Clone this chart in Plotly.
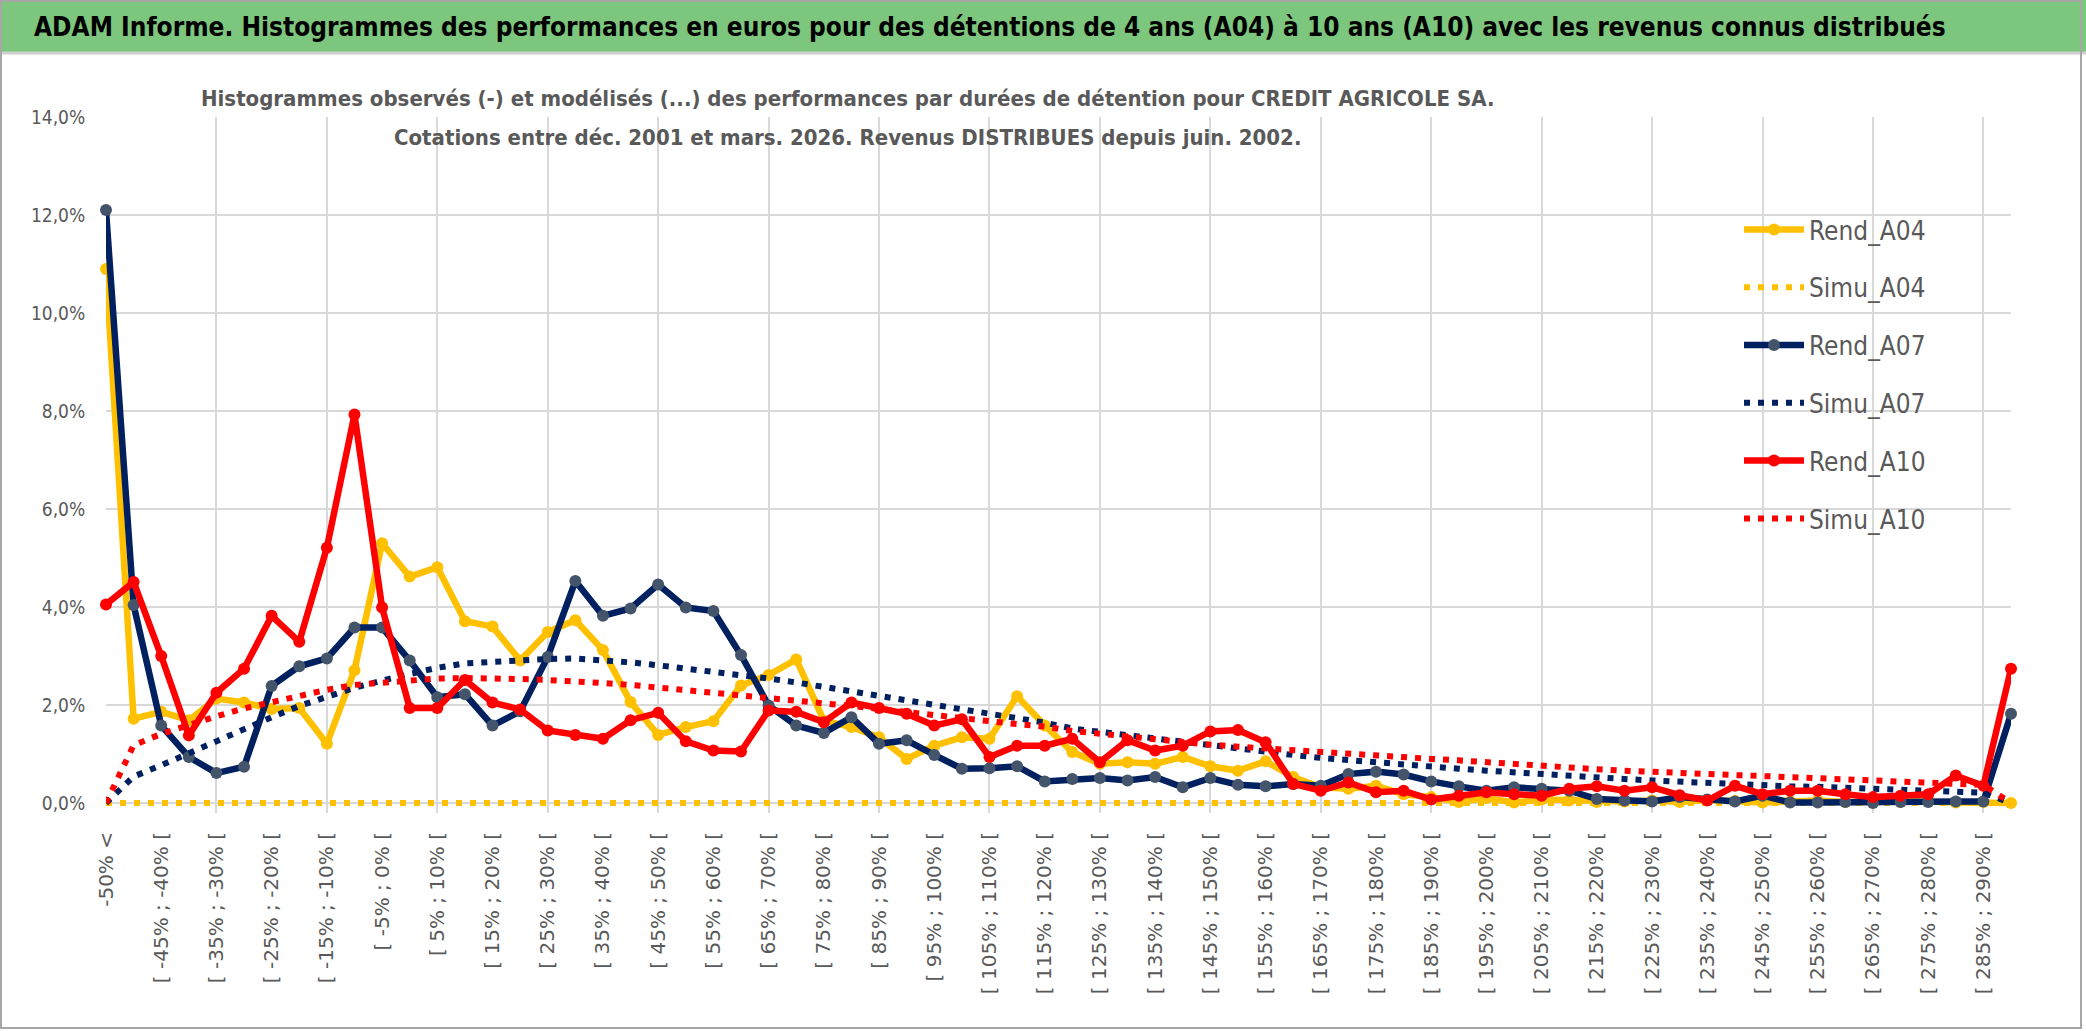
import plotly.graph_objects as go

categories = [
    "-50% <",
    "[ -50% ; -45% [", "[ -45% ; -40% [", "[ -40% ; -35% [", "[ -35% ; -30% [",
    "[ -30% ; -25% [", "[ -25% ; -20% [", "[ -20% ; -15% [", "[ -15% ; -10% [",
    "[ -10% ; -5% [", "[ -5% ; 0% [", "[ 0% ; 5% [", "[ 5% ; 10% [",
    "[ 10% ; 15% [", "[ 15% ; 20% [", "[ 20% ; 25% [", "[ 25% ; 30% [",
    "[ 30% ; 35% [", "[ 35% ; 40% [", "[ 40% ; 45% [", "[ 45% ; 50% [",
    "[ 50% ; 55% [", "[ 55% ; 60% [", "[ 60% ; 65% [", "[ 65% ; 70% [",
    "[ 70% ; 75% [", "[ 75% ; 80% [", "[ 80% ; 85% [", "[ 85% ; 90% [",
    "[ 90% ; 95% [", "[ 95% ; 100% [", "[ 100% ; 105% [", "[ 105% ; 110% [",
    "[ 110% ; 115% [", "[ 115% ; 120% [", "[ 120% ; 125% [", "[ 125% ; 130% [",
    "[ 130% ; 135% [", "[ 135% ; 140% [", "[ 140% ; 145% [", "[ 145% ; 150% [",
    "[ 150% ; 155% [", "[ 155% ; 160% [", "[ 160% ; 165% [", "[ 165% ; 170% [",
    "[ 170% ; 175% [", "[ 175% ; 180% [", "[ 180% ; 185% [", "[ 185% ; 190% [",
    "[ 190% ; 195% [", "[ 195% ; 200% [", "[ 200% ; 205% [", "[ 205% ; 210% [",
    "[ 210% ; 215% [", "[ 215% ; 220% [", "[ 220% ; 225% [", "[ 225% ; 230% [",
    "[ 230% ; 235% [", "[ 235% ; 240% [", "[ 240% ; 245% [", "[ 245% ; 250% [",
    "[ 250% ; 255% [", "[ 255% ; 260% [", "[ 260% ; 265% [", "[ 265% ; 270% [",
    "[ 270% ; 275% [", "[ 275% ; 280% [", "[ 280% ; 285% [", "[ 285% ; 290% [",
    "> 290%",
]

# values in percent
rend_a04 = [
    10.9, 1.72, 1.86, 1.69, 2.13, 2.05, 1.92, 1.94, 1.21, 2.71,
    5.30, 4.62, 4.81, 3.71, 3.60, 2.91, 3.49, 3.73, 3.12, 2.06,
    1.39, 1.55, 1.67, 2.40, 2.61, 2.93, 1.68, 1.55, 1.34, 0.90,
    1.17, 1.34, 1.31, 2.18, 1.58, 1.04, 0.80, 0.83, 0.80, 0.94,
    0.75, 0.66, 0.85, 0.53, 0.32, 0.29, 0.35, 0.18, 0.12, 0.02,
    0.10, 0.01, 0.07, 0.05, 0.02, 0.03, 0.05, 0.02, 0.06, 0.04,
    0.01, 0.03, 0.05, 0.02, 0.03, 0.02, 0.03, 0.01, 0.02, 0.00,
]
simu_a04 = [
    0.0, 0.0, 0.0, 0.0, 0.0, 0.0, 0.0, 0.0, 0.0, 0.0,
    0.0, 0.0, 0.0, 0.0, 0.0, 0.0, 0.0, 0.0, 0.0, 0.0,
    0.0, 0.0, 0.0, 0.0, 0.0, 0.0, 0.0, 0.0, 0.0, 0.0,
    0.0, 0.0, 0.0, 0.0, 0.0, 0.0, 0.0, 0.0, 0.0, 0.0,
    0.0, 0.0, 0.0, 0.0, 0.0, 0.0, 0.0, 0.0, 0.0, 0.0,
    0.0, 0.0, 0.0, 0.0, 0.0, 0.0, 0.0, 0.0, 0.0, 0.0,
    0.0, 0.0, 0.0, 0.0, 0.0, 0.0, 0.0, 0.0, 0.0, 0.0,
]
rend_a07 = [
    12.1, 4.04, 1.58, 0.94, 0.61, 0.74, 2.39, 2.79, 2.95, 3.58,
    3.58, 2.91, 2.16, 2.22, 1.58, 1.87, 2.98, 4.53, 3.82, 3.97,
    4.46, 3.99, 3.92, 3.02, 1.99, 1.58, 1.43, 1.75, 1.21, 1.28,
    0.98, 0.70, 0.71, 0.75, 0.44, 0.49, 0.51, 0.46, 0.53, 0.32,
    0.51, 0.37, 0.34, 0.39, 0.35, 0.59, 0.64, 0.58, 0.44, 0.34,
    0.25, 0.32, 0.29, 0.25, 0.08, 0.05, 0.03, 0.12, 0.07, 0.03,
    0.15, 0.01, 0.01, 0.02, 0.00, 0.02, 0.02, 0.03, 0.03, 1.82,
]
simu_a07 = [
    0.00, 0.54, 0.77, 1.02, 1.26, 1.50, 1.75, 1.98, 2.18, 2.35,
    2.50, 2.64, 2.76, 2.85, 2.89, 2.92, 2.94, 2.95, 2.92, 2.87,
    2.81, 2.75, 2.68, 2.61, 2.54, 2.46, 2.37, 2.28, 2.18, 2.09,
    1.99, 1.91, 1.81, 1.73, 1.64, 1.52, 1.45, 1.38, 1.32, 1.24,
    1.16, 1.10, 1.03, 0.98, 0.92, 0.87, 0.82, 0.77, 0.73, 0.70,
    0.66, 0.62, 0.58, 0.55, 0.52, 0.49, 0.46, 0.43, 0.41, 0.38,
    0.36, 0.34, 0.33, 0.31, 0.29, 0.27, 0.25, 0.23, 0.21, 0.00,
]
rend_a10 = [
    4.05, 4.51, 3.00, 1.38, 2.25, 2.74, 3.82, 3.29, 5.21, 7.93,
    3.99, 1.94, 1.94, 2.51, 2.05, 1.91, 1.48, 1.39, 1.31, 1.69,
    1.84, 1.26, 1.07, 1.05, 1.89, 1.86, 1.65, 2.05, 1.94, 1.82,
    1.58, 1.71, 0.94, 1.17, 1.17, 1.31, 0.83, 1.28, 1.07, 1.17,
    1.46, 1.49, 1.24, 0.39, 0.25, 0.42, 0.22, 0.25, 0.07, 0.15,
    0.22, 0.18, 0.15, 0.29, 0.34, 0.25, 0.32, 0.16, 0.05, 0.35,
    0.18, 0.25, 0.25, 0.18, 0.12, 0.15, 0.18, 0.56, 0.35, 2.74,
]
simu_a10 = [
    0.00, 1.18, 1.41, 1.60, 1.77, 1.93, 2.06, 2.19, 2.31, 2.41,
    2.46, 2.51, 2.54, 2.55, 2.55, 2.53, 2.51, 2.49, 2.45, 2.41,
    2.36, 2.31, 2.25, 2.20, 2.14, 2.09, 2.03, 1.98, 1.92, 1.85,
    1.79, 1.73, 1.67, 1.61, 1.56, 1.47, 1.41, 1.35, 1.30, 1.24,
    1.19, 1.15, 1.11, 1.08, 1.05, 1.00, 0.96, 0.93, 0.90, 0.87,
    0.83, 0.79, 0.74, 0.71, 0.69, 0.66, 0.63, 0.60, 0.58, 0.57,
    0.55, 0.53, 0.50, 0.48, 0.46, 0.43, 0.41, 0.39, 0.37, 0.00,
]

y_ticks = [0, 2, 4, 6, 8, 10, 12, 14]
y_tick_labels = ["0,0%", "2,0%", "4,0%", "6,0%", "8,0%", "10,0%", "12,0%", "14,0%"]

title_main = ("ADAM Informe. Histogrammes des performances en euros pour des détentions "
              "de 4 ans (A04) à 10 ans (A10) avec les revenus connus distribués")
subtitle_1 = ("Histogrammes observés (-) et modélisés (...) des performances par durées "
              "de détention pour CREDIT AGRICOLE SA.")
subtitle_2 = "Cotations entre déc. 2001 et mars. 2026. Revenus DISTRIBUES depuis juin. 2002."

YELLOW = "#FFC000"
NAVY = "#002060"
SLATE = "#44546A"
RED = "#FF0000"
GRID = "#D9D9D9"
TXT = "#595959"
NARROW = "DejaVu Sans Condensed, DejaVu Sans, sans-serif"

W, H = 2086, 1031
L, R, T, ZERO = 106, 2011, 117, 803      # pixel positions of plot left/right/top and of the 0 % line
Y_TOP = 14
PX_PER_UNIT = (ZERO - T) / Y_TOP
B = 813                                   # plot bottom (vertical grid reaches slightly below 0 %)
Y_MIN = -(B - ZERO) / PX_PER_UNIT


def px(xp):
    return (xp - L) / (R - L)


def py(yp):
    return (B - yp) / (B - T)


fig = go.Figure()

series = [
    ("Rend_A04", rend_a04, "rend", YELLOW, YELLOW),
    ("Simu_A04", simu_a04, "simu", YELLOW, YELLOW),
    ("Rend_A07", rend_a07, "rend", NAVY, SLATE),
    ("Simu_A07", simu_a07, "simu", NAVY, NAVY),
    ("Rend_A10", rend_a10, "rend", RED, RED),
    ("Simu_A10", simu_a10, "simu", RED, RED),
]

for name, vals, kind, lc, mc in series:
    if kind == "rend":
        fig.add_trace(go.Scatter(
            x=categories, y=vals, name=name, mode="lines+markers",
            line=dict(color=lc, width=6.5),
            marker=dict(color=mc, size=12, line=dict(width=0)),
            cliponaxis=False, legendgroup=name,
        ))
    else:
        fig.add_trace(go.Scatter(
            x=categories, y=vals, name=name, mode="lines",
            line=dict(color=lc, width=6, dash="6px,8px"),
            cliponaxis=False, legendgroup=name,
        ))

# empty trace to host the gridline axis
fig.add_trace(go.Scatter(x=[], y=[], xaxis="x2", showlegend=False, hoverinfo="skip"))

fig.update_layout(
    width=W, height=H,
    margin=dict(l=L, r=W - R, t=T, b=H - B, pad=0, autoexpand=False),
    paper_bgcolor="white", plot_bgcolor="white",
    showlegend=True,
    legend=dict(
        x=px(1739), y=py(206), xanchor="left", yanchor="top",
        bgcolor="rgba(0,0,0,0)", borderwidth=0,
        font=dict(family=NARROW, size=26, color=TXT),
        traceorder="grouped", tracegroupgap=21, itemwidth=60,
    ),
    xaxis=dict(
        type="category", range=[0, len(categories) - 1], automargin=False,
        tickmode="array", tickvals=categories[::2], ticktext=categories[::2],
        tickangle=-90, showgrid=False, zeroline=False, showline=False,
        ticks="outside", ticklen=10, tickcolor="rgba(0,0,0,0)",
        tickfont=dict(family="DejaVu Sans", size=20, color=TXT),
    ),
    xaxis2=dict(
        overlaying="x", range=[0, len(categories) - 1], autorange=False,
        tickmode="array", tickvals=list(range(0, len(categories), 4)),
        showticklabels=False, showgrid=True, gridcolor=GRID, gridwidth=2,
        zeroline=False, showline=False, ticks="", automargin=False,
    ),
    yaxis=dict(
        range=[Y_MIN, Y_TOP], tickmode="array", tickvals=y_ticks, ticktext=y_tick_labels,
        showgrid=True, gridcolor=GRID, gridwidth=2, zeroline=False, showline=False,
        ticks="outside", ticklen=16, tickcolor="rgba(0,0,0,0)", automargin=False,
        tickfont=dict(family=NARROW, size=19, color=TXT),
    ),
    shapes=[
        # green title band
        dict(type="rect", xref="paper", yref="paper", x0=px(0), x1=px(W), y0=py(52), y1=py(0),
             fillcolor="#7DC67D", line=dict(width=0), layer="above"),
        dict(type="line", xref="paper", yref="paper", x0=px(0), x1=px(W), y0=py(53), y1=py(53),
             line=dict(color="#D0D0D0", width=3), layer="above"),
        # white box under subtitle
        dict(type="rect", xref="paper", yref="paper", x0=px(200), x1=px(1499), y0=py(158), y1=py(70),
             fillcolor="white", line=dict(width=0), layer="between"),
        # white box under legend
        dict(type="rect", xref="paper", yref="paper", x0=px(1677), x1=px(1988), y0=py(550), y1=py(203),
             fillcolor="white", line=dict(width=0), layer="between"),
        # outer frame
        dict(type="rect", xref="paper", yref="paper", x0=px(1), x1=px(2081), y0=py(1028), y1=py(1),
             fillcolor="rgba(0,0,0,0)", line=dict(color="#A6A6A6", width=2), layer="above"),
    ],
    annotations=[
        dict(text="<b>" + title_main + "</b>", xref="paper", yref="paper",
             x=px(32), y=py(27), xanchor="left", yanchor="middle", showarrow=False,
             font=dict(family=NARROW, size=26, color="black")),
        dict(text="<b>" + subtitle_1 + "</b>", xref="paper", yref="paper",
             x=px(847), y=py(99), xanchor="center", yanchor="middle", showarrow=False,
             font=dict(family=NARROW, size=22, color=TXT)),
        dict(text="<b>" + subtitle_2 + "</b>", xref="paper", yref="paper",
             x=px(847), y=py(137), xanchor="center", yanchor="middle", showarrow=False,
             font=dict(family=NARROW, size=22, color=TXT)),
    ],
)

fig.write_html(
    "out.html",
    config={"displayModeBar": False},
    post_script="document.body.style.margin='0';document.body.style.overflow='hidden';",
)
